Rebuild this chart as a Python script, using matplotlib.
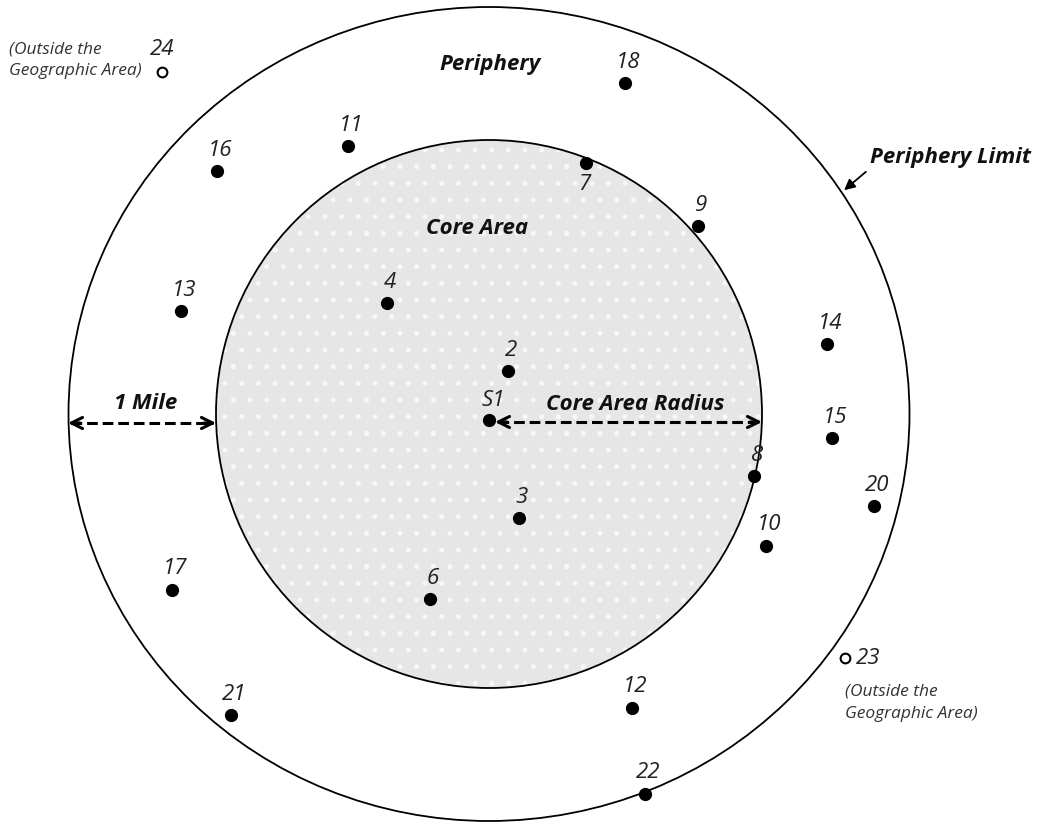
import matplotlib.pyplot as plt
from matplotlib.patches import Ellipse, FancyArrowPatch

# Site positions in picture coordinates (x right, y down)
site_ids = ['2', '3', '4', '6', '7', '8', '9', '10', '11', '12', '13', '14',
            '15', '16', '17', '18', '20', '21', '22']
site_x = [508, 519, 387, 430, 586, 754, 698, 766, 348, 632, 181, 827,
          832, 217, 172, 625, 874, 231, 645]
site_y = [371, 518, 303, 599, 163, 476, 226, 546, 146, 708, 311, 344,
          438, 171, 590, 83, 506, 715, 794]

# sites outside the geographic area (open markers)
outside_ids = ['24', '23']
outside_x = [162, 845]
outside_y = [72, 658]

source_x, source_y = 489, 420

# areas
center_x, center_y = 489, 414
core_w, core_h = 546, 548
outer_w, outer_h = 841, 814

plt.rcParams['font.family'] = ['Open Sans', 'DejaVu Sans']
plt.rcParams['hatch.linewidth'] = 1.2

fig = plt.figure(figsize=(10.39, 8.24), dpi=100)
ax = fig.add_axes([0, 0, 1, 1])
ax.set_xlim(0, 1039)
ax.set_ylim(824, 0)
ax.axis('off')

ax.add_patch(Ellipse((center_x, center_y), outer_w, outer_h, facecolor='none',
                     edgecolor='black', linewidth=1.3, zorder=1))
ax.add_patch(Ellipse((center_x, center_y), core_w, core_h, facecolor='#e6e6e6',
                     edgecolor='none', zorder=1))
ax.add_patch(Ellipse((center_x, center_y), core_w, core_h, facecolor='none',
                     edgecolor='#f8f8f8', hatch='.', linewidth=0, zorder=1.5))
ax.add_patch(Ellipse((center_x, center_y), core_w, core_h, facecolor='none',
                     edgecolor='black', linewidth=1.3, zorder=2))

num = dict(fontsize=16, style='italic', color='#222222')

# sites
ax.plot(site_x, site_y, 'o', color='black', markersize=8.5, zorder=5)
for sid, x, y in zip(site_ids, site_x, site_y):
    dy = 21 if sid == '7' else -21
    dx = -2 if sid == '7' else 3
    ax.text(x + dx, y + dy, sid, ha='center', va='center', zorder=6, **num)

ax.plot(outside_x, outside_y, 'o', markerfacecolor='white', markeredgecolor='black',
        markeredgewidth=1.5, markersize=7, zorder=5)
ax.text(outside_x[0], outside_y[0] - 23, outside_ids[0], ha='center', va='center', **num)
ax.text(outside_x[1] + 11, outside_y[1], outside_ids[1], ha='left', va='center', **num)

note = dict(fontsize=12.5, style='italic', color='#333333', linespacing=1.5)
ax.text(9, 60, '(Outside the\nGeographic Area)', ha='left', va='center', **note)
ax.text(845, 703, '(Outside the\nGeographic Area)', ha='left', va='center', **note)

# source
ax.plot(source_x, source_y, 'o', color='black', markersize=8.5, zorder=5)
ax.text(source_x + 4, source_y - 20, 'S1', ha='center', va='center', **num)

# titles
bold = dict(fontsize=16, style='italic', fontweight='bold', color='#111111')
ax.text(490, 64, 'Periphery', ha='center', va='center', **bold)
ax.text(477, 228, 'Core Area', ha='center', va='center', **bold)
ax.text(950, 157, 'Periphery Limit', ha='center', va='center', **bold)
ax.text(146, 403, '1 Mile', ha='center', va='center', **bold)
ax.text(635, 404, 'Core Area Radius', ha='center', va='center', **bold)

# pointer to the periphery limit
ax.add_patch(FancyArrowPatch((868, 170), (842, 192), arrowstyle='-|>',
                             mutation_scale=16, color='black', linewidth=1.3))


def dashed_double_arrow(x0, x1, y):
    ax.plot([x0 + 3, x1 - 3], [y, y], color='black', linewidth=2.2,
            linestyle=(0, (3.5, 1.6)), zorder=4)
    for a, b in [(x0 + 12, x0), (x1 - 12, x1)]:
        ax.add_patch(FancyArrowPatch((a, y), (b, y), arrowstyle='->',
                                     mutation_scale=20, color='black',
                                     linewidth=2.2, shrinkA=0, shrinkB=0,
                                     zorder=4))


dashed_double_arrow(68, 216, 423)
dashed_double_arrow(495, 762, 422)

fig.savefig('out.png', dpi=100, facecolor='white')
